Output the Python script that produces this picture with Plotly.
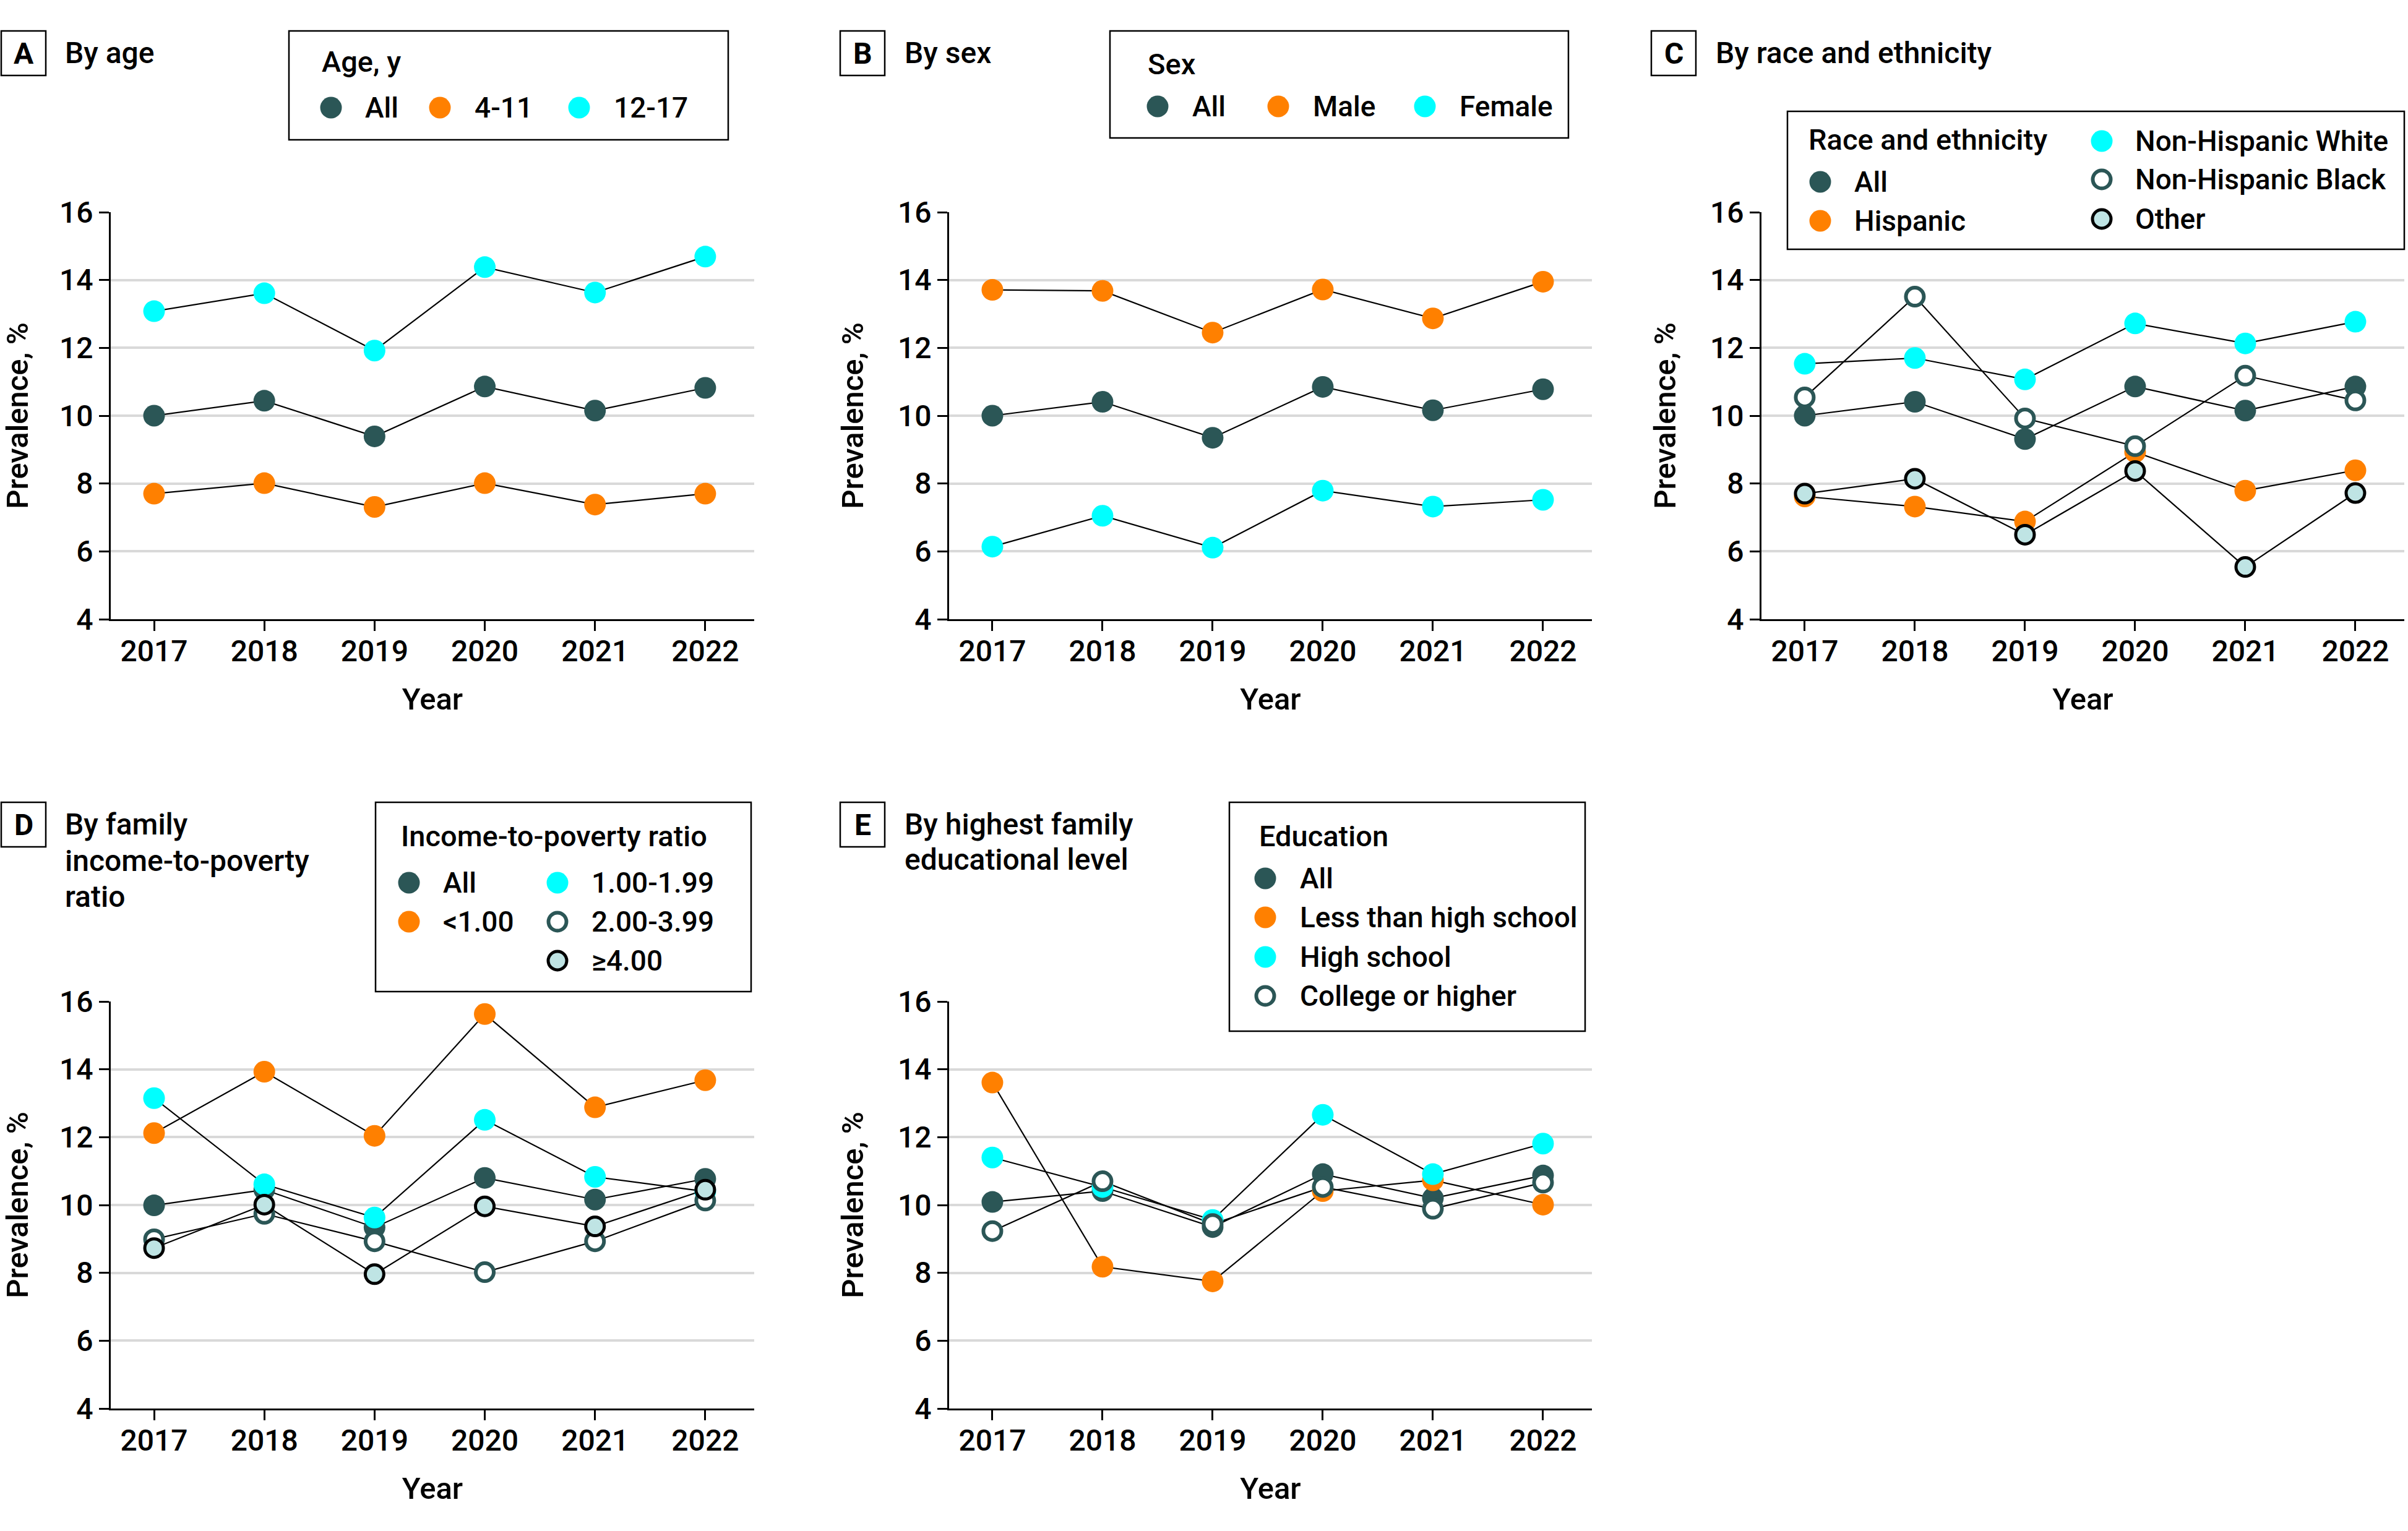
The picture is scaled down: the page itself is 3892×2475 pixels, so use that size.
import plotly.graph_objects as go

W, H = 3892, 2475
FONT = "Roboto, Lato, 'Liberation Sans', sans-serif"
FS = 48
LFS = 46

years = [2017, 2018, 2019, 2020, 2021, 2022]
y_ticks = [4, 6, 8, 10, 12, 14, 16]

# Panel A: by age
age_names = ["All", "4-11", "12-17"]
age_all = [10.00, 10.44, 9.39, 10.86, 10.15, 10.82]
age_4_11 = [7.70, 8.01, 7.31, 8.01, 7.38, 7.70]
age_12_17 = [13.08, 13.61, 11.92, 14.38, 13.63, 14.69]

# Panel B: by sex
sex_names = ["All", "Male", "Female"]
sex_all = [10.00, 10.41, 9.35, 10.85, 10.16, 10.78]
sex_male = [13.71, 13.68, 12.45, 13.72, 12.87, 13.95]
sex_female = [6.14, 7.05, 6.11, 7.79, 7.32, 7.52]

# Panel C: by race and ethnicity
race_names = ["All", "Hispanic", "Non-Hispanic White", "Non-Hispanic Black", "Other"]
race_all = [10.00, 10.41, 9.31, 10.86, 10.15, 10.86]
race_hisp = [7.62, 7.32, 6.88, 8.93, 7.79, 8.39]
race_nhw = [11.53, 11.70, 11.07, 12.72, 12.13, 12.77]
race_nhb = [10.54, 13.51, 9.92, 9.10, 11.18, 10.45]
race_other = [7.70, 8.14, 6.49, 8.37, 5.54, 7.72]

# Panel D: by family income-to-poverty ratio
ipr_names = ["All", "<1.00", "1.00-1.99", "2.00-3.99", "≥4.00"]
ipr_all = [9.99, 10.45, 9.34, 10.80, 10.16, 10.77]
ipr_lt1 = [12.12, 13.93, 12.04, 15.63, 12.88, 13.68]
ipr_1_2 = [13.15, 10.61, 9.63, 12.51, 10.83, 10.40]
ipr_2_4 = [8.99, 9.74, 8.93, 8.02, 8.93, 10.13]
ipr_ge4 = [8.73, 10.01, 7.96, 9.96, 9.37, 10.45]

# Panel E: by highest family educational level
edu_names = ["All", "Less than high school", "High school", "College or higher"]
edu_all = [10.09, 10.41, 9.35, 10.91, 10.20, 10.87]
edu_lths = [13.61, 8.18, 7.75, 10.41, 10.73, 10.01]
edu_hs = [11.40, 10.53, 9.56, 12.66, 10.91, 11.81]
edu_coll = [9.23, 10.70, 9.44, 10.53, 9.89, 10.66]

SLATE = "#2b5656"
ORANGE = "#ff8000"
CYAN = "#00ffff"
PALE = "#bfe4e4"

STYLES = {
    "all": dict(color=SLATE, size=35, line=dict(width=0, color=SLATE)),
    "orange": dict(color=ORANGE, size=35, line=dict(width=0, color=ORANGE)),
    "cyan": dict(color=CYAN, size=35, line=dict(width=0, color=CYAN)),
    "open": dict(color="white", size=29, line=dict(width=6, color=SLATE)),
    "other": dict(color=PALE, size=30, line=dict(width=5, color="black")),
}


def px(x):
    return x / W


def py(y):
    return 1 - y / H


def tfont(size=FS):
    return dict(family=FONT, size=size, color="black", weight=500)


panels = [
    dict(key="A", names=age_names,
         series=[age_all, age_4_11, age_12_17], styles=["all", "orange", "cyan"],
         xdom=(179, 1219), ydom=(343, 1001)),
    dict(key="B", names=sex_names,
         series=[sex_all, sex_male, sex_female], styles=["all", "orange", "cyan"],
         xdom=(1534, 2573), ydom=(343, 1001)),
    dict(key="C", names=race_names,
         series=[race_all, race_hisp, race_nhw, race_nhb, race_other],
         styles=["all", "orange", "cyan", "open", "other"],
         xdom=(2847, 3886), ydom=(343, 1001)),
    dict(key="D", names=ipr_names,
         series=[ipr_all, ipr_lt1, ipr_1_2, ipr_2_4, ipr_ge4],
         styles=["all", "orange", "cyan", "open", "other"],
         xdom=(179, 1219), ydom=(1619, 2277)),
    dict(key="E", names=edu_names,
         series=[edu_all, edu_lths, edu_hs, edu_coll],
         styles=["all", "orange", "cyan", "open"],
         xdom=(1534, 2573), ydom=(1619, 2277)),
]

fig = go.Figure()
layout = dict(
    width=W, height=H,
    margin=dict(l=0, r=0, t=0, b=0, pad=0, autoexpand=False),
    paper_bgcolor="white", plot_bgcolor="white",
    showlegend=False,
    font=tfont(),
)

for i, p in enumerate(panels, start=1):
    xa = "x" if i == 1 else f"x{i}"
    ya = "y" if i == 1 else f"y{i}"
    # connecting lines first (beneath all markers)
    for name, vals in zip(p["names"], p["series"]):
        fig.add_trace(go.Scatter(
            x=years, y=vals, mode="lines", name=name, xaxis=xa, yaxis=ya,
            line=dict(color="black", width=2.2), hoverinfo="skip", cliponaxis=False))
    for name, vals, st in zip(p["names"], p["series"], p["styles"]):
        fig.add_trace(go.Scatter(
            x=years, y=vals, mode="markers", name=name, xaxis=xa, yaxis=ya,
            marker=dict(symbol="circle", opacity=1, **STYLES[st]), cliponaxis=False))
    axis_common = dict(
        showline=True, linecolor="black", linewidth=2.5,
        ticks="outside", ticklen=16, tickwidth=2.5, tickcolor="black",
        tickfont=tfont(), zeroline=False, automargin=False,
    )
    layout["xaxis" if i == 1 else f"xaxis{i}"] = dict(
        domain=[px(p["xdom"][0]), px(p["xdom"][1])], anchor=ya,
        range=[2016.607, 2022.444], tickvals=years, ticktext=[str(y) for y in years],
        showgrid=False, ticklabelstandoff=-8,
        title=dict(text="Year", font=tfont(FS + 1), standoff=33),
        **axis_common)
    layout["yaxis" if i == 1 else f"yaxis{i}"] = dict(
        domain=[py(p["ydom"][1]), py(p["ydom"][0])], anchor=xa,
        range=[4, 16], tickvals=y_ticks, ticktext=[str(v) for v in y_ticks],
        showgrid=True, gridcolor="#d9d9d9", gridwidth=4, ticklabelstandoff=0,
        title=dict(text="Prevalence, %", font=tfont(FS + 1), standoff=40),
        **axis_common)

fig.update_layout(**layout)

shapes = []
annotations = []

# Panel letter boxes and titles: (letter, box x, box y, title lines, text x, line centre ys)
headers = [
    ("A", 2, 50, ["By age"], 103, [86]),
    ("B", 1358, 50, ["By sex"], 1460, [86]),
    ("C", 2669, 50, ["By race and ethnicity"], 2771, [86]),
    ("D", 2, 1297, ["By family", "income-to-poverty", "ratio"], 103, [1333, 1392, 1450]),
    ("E", 1358, 1297, ["By highest family", "educational level"], 1460, [1333, 1390]),
]
for letter, bx, by, lines, tx, tys in headers:
    shapes.append(dict(type="rect", xref="paper", yref="paper",
                       x0=px(bx), x1=px(bx + 72), y0=py(by + 72), y1=py(by),
                       line=dict(color="black", width=2.5), fillcolor="white", layer="above"))
    annotations.append(dict(text=f"<b>{letter}</b>", xref="paper", yref="paper",
                            x=px(bx + 36), y=py(by + 36), xanchor="center", yanchor="middle",
                            showarrow=False, font=dict(family=FONT, size=FS, color="black", weight=700)))
    for line_text, ty in zip(lines, tys):
        annotations.append(dict(text=line_text, xref="paper", yref="paper",
                                x=px(tx), y=py(ty - 31), xanchor="left", yanchor="top", align="left",
                                showarrow=False, font=tfont(FS)))


def legend_marker(cx, cy, st):
    s = STYLES[st]
    lw = s["line"]["width"]
    r = s["size"] / 2
    return dict(type="circle", xref="paper", yref="paper",
                xsizemode="pixel", ysizemode="pixel",
                xanchor=px(cx), yanchor=py(cy), x0=-r, x1=r, y0=-r, y1=r,
                fillcolor=s["color"],
                line=dict(color=s["line"]["color"], width=lw),
                layer="above")


# legend definitions: box (x0, y0, x1, y1), title (text, x, y), per item (marker x, y, text x)
legends = [
    dict(panel=0, box=(467, 50, 1177, 226), title=("Age, y", 518, 99),
         pos=[(535, 174, 588), (711, 174, 765), (936, 174, 990)]),
    dict(panel=1, box=(1794, 50, 2535, 223), title=("Sex", 1853, 103),
         pos=[(1871, 172, 1925), (2066, 172, 2120), (2303, 172, 2357)]),
    dict(panel=2, box=(2889, 180, 3886, 403), title=("Race and ethnicity", 2921, 225),
         pos=[(2942, 294, 2995), (2942, 357, 2995), (3397, 228, 3449),
              (3397, 290, 3449), (3397, 354, 3449)]),
    dict(panel=3, box=(607, 1297, 1214, 1603), title=("Income-to-poverty ratio", 646, 1351),
         pos=[(661, 1427, 714), (661, 1490, 714), (901, 1427, 954),
              (901, 1490, 954), (901, 1553, 954)]),
    dict(panel=4, box=(1987, 1297, 2562, 1667), title=("Education", 2033, 1351),
         pos=[(2045, 1420, 2099), (2045, 1483, 2099), (2045, 1547, 2099), (2045, 1610, 2099)]),
]

for lg in legends:
    p = panels[lg["panel"]]
    x0, y0, x1, y1 = lg["box"]
    shapes.append(dict(type="rect", xref="paper", yref="paper",
                       x0=px(x0), x1=px(x1), y0=py(y1), y1=py(y0),
                       line=dict(color="black", width=2.5), fillcolor="white", layer="above"))
    t, tx, ty = lg["title"]
    annotations.append(dict(text=t, xref="paper", yref="paper", x=px(tx), y=py(ty),
                            xanchor="left", yanchor="middle", showarrow=False,
                            font=tfont(LFS + 1)))
    for name, st, (mx, my, tx2) in zip(p["names"], p["styles"], lg["pos"]):
        shapes.append(legend_marker(mx, my, st))
        annotations.append(dict(text=name, xref="paper", yref="paper", x=px(tx2), y=py(my),
                                xanchor="left", yanchor="middle", showarrow=False,
                                font=tfont(LFS)))

fig.update_layout(shapes=shapes, annotations=annotations)
fig.write_html("out.html", config={"displayModeBar": False},
               post_script="document.body.style.margin='0';")
